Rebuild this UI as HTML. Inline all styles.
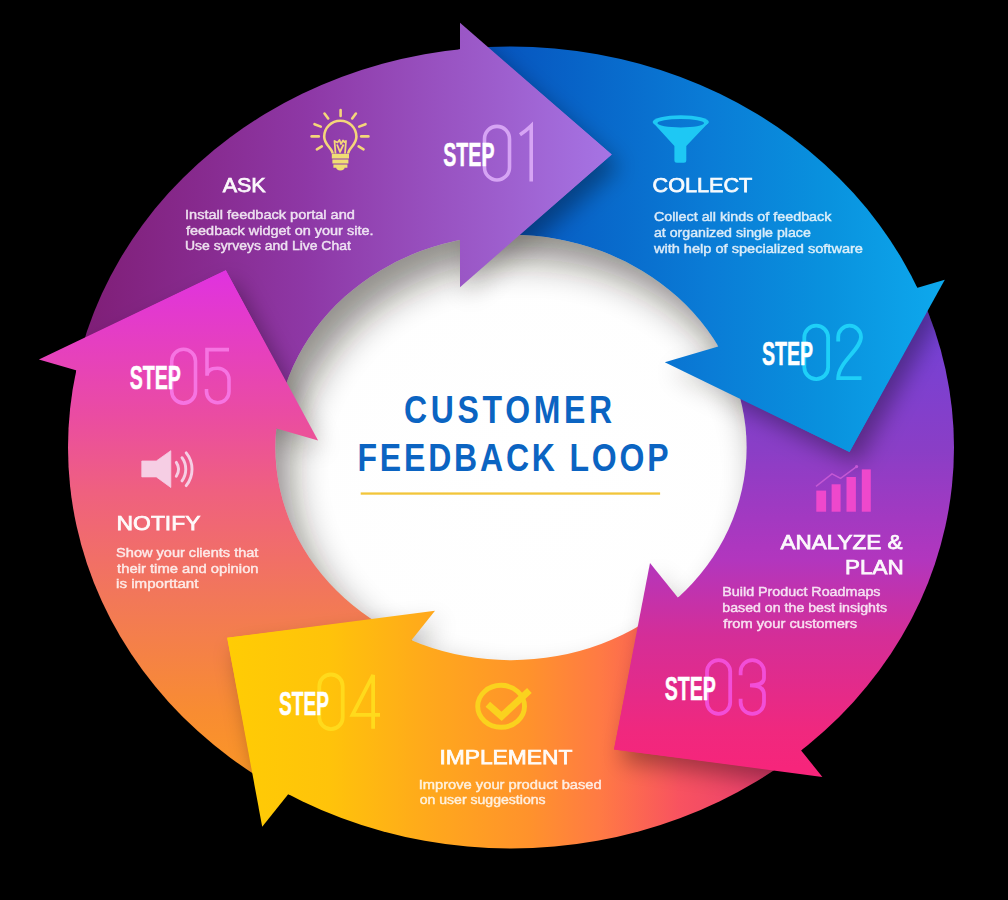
<!DOCTYPE html>
<html><head><meta charset="utf-8"><style>
html,body{margin:0;padding:0;background:#000;width:1008px;height:900px;overflow:hidden}
svg{display:block}
</style></head><body>
<svg width="1008" height="900" viewBox="0 0 1008 900">
<defs>
<linearGradient id="g1" gradientUnits="userSpaceOnUse" x1="60" y1="0" x2="612" y2="0">
  <stop offset="0" stop-color="#7e1c72"/>
  <stop offset="0.25" stop-color="#872a8e"/>
  <stop offset="0.45" stop-color="#8e38a6"/>
  <stop offset="1" stop-color="#a674e4"/>
</linearGradient>
<linearGradient id="g2" gradientUnits="userSpaceOnUse" x1="470" y1="0" x2="950" y2="0">
  <stop offset="0" stop-color="#0650bc"/>
  <stop offset="0.5" stop-color="#0a7cd6"/>
  <stop offset="0.75" stop-color="#0992de"/>
  <stop offset="1" stop-color="#0eaaee"/>
</linearGradient>
<linearGradient id="g3" gradientUnits="userSpaceOnUse" x1="0" y1="300" x2="0" y2="780">
  <stop offset="0" stop-color="#6e42da"/>
  <stop offset="0.3125" stop-color="#8a3ec6"/>
  <stop offset="0.5417" stop-color="#b236be"/>
  <stop offset="0.698" stop-color="#d42e98"/>
  <stop offset="0.9" stop-color="#f0287e"/>
  <stop offset="1" stop-color="#f8247a"/>
</linearGradient>
<linearGradient id="g4" gradientUnits="userSpaceOnUse" x1="230" y1="0" x2="780" y2="0">
  <stop offset="0" stop-color="#ffcc04"/>
  <stop offset="0.18" stop-color="#ffc30a"/>
  <stop offset="0.364" stop-color="#ffa81c"/>
  <stop offset="0.545" stop-color="#ff922c"/>
  <stop offset="0.673" stop-color="#ff7a44"/>
  <stop offset="0.818" stop-color="#f85260"/>
  <stop offset="1" stop-color="#e83c70"/>
</linearGradient>
<linearGradient id="g5" gradientUnits="userSpaceOnUse" x1="0" y1="270" x2="0" y2="800">
  <stop offset="0" stop-color="#e032e0"/>
  <stop offset="0.2736" stop-color="#ea4ca2"/>
  <stop offset="0.415" stop-color="#ef6080"/>
  <stop offset="0.6226" stop-color="#f27858"/>
  <stop offset="0.832" stop-color="#f88c32"/>
  <stop offset="1" stop-color="#fc9a22"/>
</linearGradient>
<radialGradient id="gw" gradientUnits="userSpaceOnUse" cx="540" cy="470" r="240" gradientTransform="translate(540 470) scale(1.1 1) translate(-540 -470)">
  <stop offset="0" stop-color="#ffffff"/>
  <stop offset="1" stop-color="#fefefe"/>
</radialGradient>
<clipPath id="outer"><ellipse cx="511" cy="447.5" rx="443" ry="401"/></clipPath>
<clipPath id="ring"><path clip-rule="evenodd" d="M68,447.5 A443,401 0 1 0 954,447.5 A443,401 0 1 0 68,447.5 Z M275.4,447.5 A235.6,212.7 0 1 0 746.6,447.5 A235.6,212.7 0 1 0 275.4,447.5 Z"/></clipPath>
<filter id="blur" x="-50%" y="-50%" width="200%" height="200%"><feGaussianBlur stdDeviation="11"/></filter>
<filter id="blur2" filterUnits="userSpaceOnUse" x="200" y="150" width="620" height="600"><feGaussianBlur stdDeviation="18"/></filter>
<filter id="blur3" filterUnits="userSpaceOnUse" x="200" y="150" width="620" height="600"><feGaussianBlur stdDeviation="12"/></filter>
<filter id="sh" x="-30%" y="-30%" width="160%" height="160%">
  <feGaussianBlur in="SourceAlpha" stdDeviation="7"/>
  <feOffset dx="4" dy="4" result="b"/>
  <feComponentTransfer><feFuncA type="linear" slope="0.45"/></feComponentTransfer>
  <feMerge><feMergeNode/><feMergeNode in="SourceGraphic"/></feMerge>
</filter>
<clipPath id="hp1"><polygon points="460.0,-1977.3 460.0,2022.7 2460.0,2022.7 2460.0,-1977.3"/></clipPath><clipPath id="hp2"><polygon points="2863.3,-285.6 -973.7,845.0 -408.4,2763.4 3428.5,1632.9"/></clipPath><clipPath id="hp3"><polygon points="-605.1,-994.2 1905.1,2120.2 347.9,3375.2 -2162.2,260.9"/></clipPath><clipPath id="hp4"><polygon points="1684.7,-950.7 -814.7,2172.3 -2376.2,922.5 123.3,-2200.4"/></clipPath><clipPath id="hp5"><polygon points="-1881.9,-197.8 1959.7,916.8 2517.0,-1004.0 -1324.6,-2118.6"/></clipPath><clipPath id="inner"><ellipse cx="511" cy="447.5" rx="235.6" ry="212.7"/></clipPath></defs>
<rect width="1008" height="900" fill="#000"/>
<polygon points="-100.0,319.0 -100.0,-100.0 460.0,-100.0 460.0,287.3 511.0,447.5 318.1,440.5" fill="url(#g1)" clip-path="url(#outer)"/><polygon points="460.0,-100.0 1100.0,-100.0 1100.0,234.0 664.8,362.2 511.0,447.5 460.0,287.3" fill="url(#g2)" clip-path="url(#outer)"/><polygon points="1100.0,234.0 1100.0,1000.0 1001.0,1000.0 650.0,563.0 511.0,447.5 664.8,362.2" fill="url(#g3)" clip-path="url(#outer)"/><polygon points="1001.0,1000.0 123.4,1000.0 435.0,610.8 511.0,447.5 650.0,563.0" fill="url(#g4)" clip-path="url(#outer)"/><polygon points="123.4,1000.0 -100.0,1000.0 -100.0,319.0 318.1,440.5 511.0,447.5 435.0,610.8" fill="url(#g5)" clip-path="url(#outer)"/>
<ellipse cx="511" cy="447.5" rx="235.6" ry="212.7" fill="url(#gw)"/>
<g clip-path="url(#inner)"><g opacity="0.48" filter="url(#blur2)"><g transform="translate(14 24)" fill="#1c1410"><path d="M-300,-300 H1300 V1200 H-300 Z M275.4,447.5 A235.6,212.7 0 1 0 746.6,447.5 A235.6,212.7 0 1 0 275.4,447.5 Z" fill-rule="evenodd"/></g></g><g opacity="0.2" filter="url(#blur3)"><g transform="translate(6 10)" fill="#1c1410"><polygon points="460.0,22.7 611.7,154.5 460.0,287.3"/><polygon points="944.8,279.7 849.5,452.0 664.8,362.2"/><polygon points="650.0,563.0 614.0,749.4 822.4,776.9"/><polygon points="435.0,610.8 227.2,637.8 262.2,826.7"/><polygon points="38.9,359.5 225.8,270.2 318.1,440.5"/></g></g></g>
<g clip-path="url(#hp1)"><g clip-path="url(#ring)"><polygon points="460.0,22.7 611.7,154.5 460.0,287.3" fill="#000" fill-opacity="0.34" filter="url(#blur)" transform="translate(8 12)"/></g></g><g clip-path="url(#hp2)"><g clip-path="url(#ring)"><polygon points="944.8,279.7 849.5,452.0 664.8,362.2" fill="#000" fill-opacity="0.34" filter="url(#blur)" transform="translate(8 12)"/></g></g><g clip-path="url(#hp3)"><g clip-path="url(#ring)"><polygon points="650.0,563.0 614.0,749.4 822.4,776.9" fill="#000" fill-opacity="0.34" filter="url(#blur)" transform="translate(8 12)"/></g></g><g clip-path="url(#hp4)"><g clip-path="url(#ring)"><polygon points="435.0,610.8 227.2,637.8 262.2,826.7" fill="#000" fill-opacity="0.34" filter="url(#blur)" transform="translate(8 12)"/></g></g><g clip-path="url(#hp5)"><g clip-path="url(#ring)"><polygon points="38.9,359.5 225.8,270.2 318.1,440.5" fill="#000" fill-opacity="0.34" filter="url(#blur)" transform="translate(8 12)"/></g></g><polygon points="458.5,22.7 611.7,154.5 458.5,287.3" fill="url(#g1)" clip-path="url(#ring)"/><polygon points="944.4,278.3 849.5,452.0 664.4,360.8" fill="url(#g2)" clip-path="url(#ring)"/><polygon points="651.2,562.1 614.0,749.4 823.6,776.0" fill="url(#g3)" clip-path="url(#ring)"/><polygon points="436.2,611.7 227.2,637.8 263.4,827.6" fill="url(#g4)" clip-path="url(#ring)"/><polygon points="38.5,360.9 225.8,270.2 317.7,441.9" fill="url(#g5)" clip-path="url(#ring)"/><polygon points="460.0,22.7 611.7,154.5 460.0,287.3" fill="url(#g1)"/><polygon points="944.8,279.7 849.5,452.0 664.8,362.2" fill="url(#g2)"/><polygon points="650.0,563.0 614.0,749.4 822.4,776.9" fill="url(#g3)"/><polygon points="435.0,610.8 227.2,637.8 262.2,826.7" fill="url(#g4)"/><polygon points="38.9,359.5 225.8,270.2 318.1,440.5" fill="url(#g5)"/>
<path d="M484.5,138.9 A12.5,12.5 0 0 1 509.5,138.9 L509.5,167.5 A12.5,12.5 0 0 1 484.5,167.5 Z" fill="none" stroke="#d6a4f4" stroke-width="3.6"/><path d="M520.0,134.696 Q526.72,130.248 531.2,125.8 L531.2,181.4" fill="none" stroke="#d6a4f4" stroke-width="3.6" stroke-linejoin="miter"/><path d="M804.3,337.6 A11.900000000000034,11.900000000000034 0 0 1 828.1,337.6 L828.1,367.2 A11.900000000000034,11.900000000000034 0 0 1 804.3,367.2 Z" fill="none" stroke="#1ed0f8" stroke-width="3.8"/><path d="M838.2,341.45 L838.2,337.09999999999997 A11.399999999999977,11.399999999999977 0 0 1 861.0,337.09999999999997 C861.0,349.325 838.2,362.45 838.2,378.2 L861.5,378.2" fill="none" stroke="#1ed0f8" stroke-width="3.8" stroke-linejoin="miter"/><path d="M707.0,671.7 A11.600000000000023,11.600000000000023 0 0 1 730.2,671.7 L730.2,702.3 A11.600000000000023,11.600000000000023 0 0 1 707.0,702.3 Z" fill="none" stroke="#f24ed8" stroke-width="3.8"/><path d="M740.6,675.164 L740.6,671.8 A11.699999999999989,11.699999999999989 0 0 1 764.0,671.8 L764.0,678.366 Q764.0,685.386 749.96,685.386 M749.96,685.386 Q764.0,685.386 764.0,694.746 L764.0,702.2 A11.699999999999989,11.699999999999989 0 0 1 740.6,702.2 L740.6,698.836" fill="none" stroke="#f24ed8" stroke-width="3.8" stroke-linejoin="miter"/><path d="M319.3,686.2 A11.699999999999989,11.699999999999989 0 0 1 342.7,686.2 L342.7,717.4000000000001 A11.699999999999989,11.699999999999989 0 0 1 319.3,717.4000000000001 Z" fill="none" stroke="#ffda1c" stroke-width="3.8"/><path d="M373.125,728.8 L373.125,675.0 L352.5,714.812 L380.0,714.812" fill="none" stroke="#ffda1c" stroke-width="3.8" stroke-linejoin="miter"/><path d="M171.7,361.20000000000005 A11.900000000000006,11.900000000000006 0 0 1 195.5,361.20000000000005 L195.5,391.20000000000005 A11.900000000000006,11.900000000000006 0 0 1 171.7,391.20000000000005 Z" fill="none" stroke="#f674e2" stroke-width="3.6"/><path d="M229.0,349.6 L207.0,349.6 L207.0,375.668 Q207.0,368.22 217.75,368.22 A11.25,11.25 0 0 1 229.0,379.47 L229.0,391.55 A11.25,11.25 0 0 1 206.5,391.55 L206.5,388.968" fill="none" stroke="#f674e2" stroke-width="3.6" stroke-linejoin="miter"/>
<line x1="340.6" y1="110" x2="340.6" y2="116" stroke="#f4d67a" stroke-width="2.6" stroke-linecap="round"/><line x1="324.5" y1="113.5" x2="328.2" y2="118.5" stroke="#f4d67a" stroke-width="2.6" stroke-linecap="round"/><line x1="355.9" y1="113.5" x2="352.2" y2="118.5" stroke="#f4d67a" stroke-width="2.6" stroke-linecap="round"/><line x1="314.5" y1="124.2" x2="320.8" y2="126.6" stroke="#f4d67a" stroke-width="2.6" stroke-linecap="round"/><line x1="365.5" y1="124.2" x2="359.2" y2="126.6" stroke="#f4d67a" stroke-width="2.6" stroke-linecap="round"/><line x1="311.6" y1="136.4" x2="318.8" y2="136.4" stroke="#f4d67a" stroke-width="2.6" stroke-linecap="round"/><line x1="368.4" y1="136.4" x2="361.2" y2="136.4" stroke="#f4d67a" stroke-width="2.6" stroke-linecap="round"/><line x1="316.9" y1="149.3" x2="321.8" y2="146.4" stroke="#f4d67a" stroke-width="2.6" stroke-linecap="round"/><line x1="363.5" y1="149.3" x2="358.6" y2="146.4" stroke="#f4d67a" stroke-width="2.6" stroke-linecap="round"/><path d="M332.6,153.5 C332.6,148.5 324.2,145 324.2,136.8 A16.1,16.1 0 1 1 356.4,136.8 C356.4,145 348.2,148.5 348.2,153.5" fill="none" stroke="#f4d67a" stroke-width="2.6"/><path d="M335.5,153.5 L334.5,141 L337.5,142.5 L339.5,140 L341,144 L343,140.5 L344.5,142 L346,141 L345,153.5 M337,144.5 L340,152 L343.5,144.5" fill="none" stroke="#f4d67a" stroke-width="1.8" stroke-linejoin="round"/><path d="M331.8,153.8 h17.2 v4.8 h-17.2z M332.4,159.5 h16 v4.1 h-16z M333.4,164.5 h14 v3.3 h-14z M336.2,167.6 h8.4 q0,2.8 -4.2,2.8 q-4.2,0 -4.2,-2.8z" fill="#f0de74"/><ellipse cx="680.75" cy="122" rx="28.1" ry="6.8" fill="#1ec8f4"/><path d="M652.9,122.5 L674.4,146 L674.4,160.3 Q674.4,162.8 676.9,162.8 L683.8,162.8 Q686.3,162.8 686.3,160.3 L686.3,146 L708.6,122.5 Z" fill="#1ec8f4"/><ellipse cx="680.75" cy="123.2" rx="23.3" ry="4.2" fill="url(#g2)"/><rect x="816.3" y="490.6" width="9.8" height="21.1" fill="#ee48cc"/><rect x="831.6" y="484.3" width="9.0" height="27.4" fill="#ee48cc"/><rect x="846.5" y="477" width="9.4" height="34.7" fill="#ee48cc"/><rect x="861.8" y="469.4" width="9.0" height="42.3" fill="#ee48cc"/><polyline points="816,486.4 832,473.9 840.6,478.4 856.6,466.6" fill="none" stroke="#c458d4" stroke-width="1.4"/><circle cx="856.6" cy="466.6" r="1.6" fill="#c458d4"/><path d="M141.8,461 L156.3,461 L170.8,450.7 L170.8,487.5 L156.3,476.9 L141.8,476.9 Z" fill="#f6cee4" stroke="#f6cee4" stroke-width="0.8" stroke-linejoin="round"/><path d="M176.3,462.4 A12.4,12.4 0 0 1 176.3,476.2" fill="none" stroke="#f6cee4" stroke-width="2.9" stroke-linecap="round"/><path d="M182.0,457.7 A19.8,19.8 0 0 1 182.0,480.9" fill="none" stroke="#f6cee4" stroke-width="2.9" stroke-linecap="round"/><path d="M186.2,452.9 A26,26 0 0 1 186.2,485.7" fill="none" stroke="#f6cee4" stroke-width="2.9" stroke-linecap="round"/><ellipse cx="501.1" cy="706.3" rx="23.4" ry="21" fill="none" stroke="#fad21e" stroke-width="4.9"/><path d="M487.8,704.2 L501.6,716.3 L529.4,690.5" fill="none" stroke="#fad21e" stroke-width="6.8" stroke-linejoin="miter"/>
<text x="222.7" y="191.8" font-family="Liberation Sans, sans-serif" font-size="20.5" font-weight="normal" fill="#ffffff" opacity="0.97" stroke="#ffffff" stroke-width="0.75" textLength="43.0" lengthAdjust="spacingAndGlyphs">ASK</text><text x="652.5" y="192.3" font-family="Liberation Sans, sans-serif" font-size="20.5" font-weight="normal" fill="#ffffff" opacity="0.97" stroke="#ffffff" stroke-width="0.75" textLength="99.81" lengthAdjust="spacingAndGlyphs">COLLECT</text><text x="780.5" y="548.8" font-family="Liberation Sans, sans-serif" font-size="20.5" font-weight="normal" fill="#ffffff" opacity="0.97" stroke="#ffffff" stroke-width="0.75" textLength="122.0" lengthAdjust="spacingAndGlyphs">ANALYZE &amp;</text><text x="845.0" y="573.6" font-family="Liberation Sans, sans-serif" font-size="20.5" font-weight="normal" fill="#ffffff" opacity="0.97" stroke="#ffffff" stroke-width="0.75" textLength="58.6" lengthAdjust="spacingAndGlyphs">PLAN</text><text x="116.6" y="530.4" font-family="Liberation Sans, sans-serif" font-size="20.5" font-weight="normal" fill="#ffffff" opacity="0.97" stroke="#ffffff" stroke-width="0.75" textLength="83.83" lengthAdjust="spacingAndGlyphs">NOTIFY</text><text x="439.4" y="763.6" font-family="Liberation Sans, sans-serif" font-size="20.5" font-weight="normal" fill="#ffffff" opacity="0.97" stroke="#ffffff" stroke-width="0.75" textLength="133.03" lengthAdjust="spacingAndGlyphs">IMPLEMENT</text><text x="185.0" y="219" font-family="Liberation Sans, sans-serif" font-size="13.6" font-weight="normal" fill="#ffffff" opacity="0.85" stroke="#ffffff" stroke-width="0.45" textLength="169.81" lengthAdjust="spacingAndGlyphs">Install feedback portal and</text><text x="186.0" y="234.5" font-family="Liberation Sans, sans-serif" font-size="13.6" font-weight="normal" fill="#ffffff" opacity="0.85" stroke="#ffffff" stroke-width="0.45" textLength="187.5" lengthAdjust="spacingAndGlyphs">feedback widget on your site.</text><text x="185.0" y="250.4" font-family="Liberation Sans, sans-serif" font-size="13.6" font-weight="normal" fill="#ffffff" opacity="0.85" stroke="#ffffff" stroke-width="0.45" textLength="165.81" lengthAdjust="spacingAndGlyphs">Use syrveys and Live Chat</text><text x="653.9" y="221.3" font-family="Liberation Sans, sans-serif" font-size="13.6" font-weight="normal" fill="#ffffff" opacity="0.85" stroke="#ffffff" stroke-width="0.45" textLength="177.5" lengthAdjust="spacingAndGlyphs">Collect all kinds of feedback</text><text x="653.9" y="237" font-family="Liberation Sans, sans-serif" font-size="13.6" font-weight="normal" fill="#ffffff" opacity="0.85" stroke="#ffffff" stroke-width="0.45" textLength="156.9" lengthAdjust="spacingAndGlyphs">at organized single place</text><text x="653.9" y="252.6" font-family="Liberation Sans, sans-serif" font-size="13.6" font-weight="normal" fill="#ffffff" opacity="0.85" stroke="#ffffff" stroke-width="0.45" textLength="209.1" lengthAdjust="spacingAndGlyphs">with help of specialized software</text><text x="722.3" y="596.4" font-family="Liberation Sans, sans-serif" font-size="13.6" font-weight="normal" fill="#ffffff" opacity="0.85" stroke="#ffffff" stroke-width="0.45" textLength="158.21" lengthAdjust="spacingAndGlyphs">Build Product Roadmaps</text><text x="722.3" y="612.3" font-family="Liberation Sans, sans-serif" font-size="13.6" font-weight="normal" fill="#ffffff" opacity="0.85" stroke="#ffffff" stroke-width="0.45" textLength="164.7" lengthAdjust="spacingAndGlyphs">based on the best insights</text><text x="723.3" y="628.2" font-family="Liberation Sans, sans-serif" font-size="13.6" font-weight="normal" fill="#ffffff" opacity="0.85" stroke="#ffffff" stroke-width="0.45" textLength="133.8" lengthAdjust="spacingAndGlyphs">from your customers</text><text x="116.1" y="556.6" font-family="Liberation Sans, sans-serif" font-size="13.6" font-weight="normal" fill="#ffffff" opacity="0.85" stroke="#ffffff" stroke-width="0.45" textLength="142.31" lengthAdjust="spacingAndGlyphs">Show your clients that</text><text x="117.1" y="572.9" font-family="Liberation Sans, sans-serif" font-size="13.6" font-weight="normal" fill="#ffffff" opacity="0.85" stroke="#ffffff" stroke-width="0.45" textLength="141.51" lengthAdjust="spacingAndGlyphs">their time and opinion</text><text x="116.1" y="588.3" font-family="Liberation Sans, sans-serif" font-size="13.6" font-weight="normal" fill="#ffffff" opacity="0.85" stroke="#ffffff" stroke-width="0.45" textLength="82.41" lengthAdjust="spacingAndGlyphs">is importtant</text><text x="418.7" y="789.4" font-family="Liberation Sans, sans-serif" font-size="13.6" font-weight="normal" fill="#ffffff" opacity="0.85" stroke="#ffffff" stroke-width="0.45" textLength="183.02" lengthAdjust="spacingAndGlyphs">Improve your product based</text><text x="419.7" y="804.1" font-family="Liberation Sans, sans-serif" font-size="13.6" font-weight="normal" fill="#ffffff" opacity="0.85" stroke="#ffffff" stroke-width="0.45" textLength="125.9" lengthAdjust="spacingAndGlyphs">on user suggestions</text><text transform="matrix(0.82 0 0 1 404.1 423.3)" x="0" y="0" font-family="Liberation Sans, sans-serif" font-size="39" font-weight="bold" fill="#0b64c2" textLength="253.66" lengthAdjust="spacing">CUSTOMER</text><text transform="matrix(0.82 0 0 1 357.5 471.3)" x="0" y="0" font-family="Liberation Sans, sans-serif" font-size="39" font-weight="bold" fill="#0b64c2" textLength="379.27" lengthAdjust="spacing">FEEDBACK LOOP</text><text x="443.3" y="165.9" font-family="Liberation Sans, sans-serif" font-size="33" font-weight="bold" fill="#ffffff" opacity="1" stroke="#ffffff" stroke-width="0.5" textLength="51.21" lengthAdjust="spacingAndGlyphs">STEP</text><text x="761.9" y="364.7" font-family="Liberation Sans, sans-serif" font-size="33" font-weight="bold" fill="#ffffff" opacity="1" stroke="#ffffff" stroke-width="0.5" textLength="51.21" lengthAdjust="spacingAndGlyphs">STEP</text><text x="664.7" y="699.9" font-family="Liberation Sans, sans-serif" font-size="33" font-weight="bold" fill="#ffffff" opacity="1" stroke="#ffffff" stroke-width="0.5" textLength="51.21" lengthAdjust="spacingAndGlyphs">STEP</text><text x="279.1" y="714.5" font-family="Liberation Sans, sans-serif" font-size="33" font-weight="bold" fill="#ffffff" opacity="1" stroke="#ffffff" stroke-width="0.5" textLength="50.0" lengthAdjust="spacingAndGlyphs">STEP</text><text x="129.7" y="388.7" font-family="Liberation Sans, sans-serif" font-size="33" font-weight="bold" fill="#ffffff" opacity="1" stroke="#ffffff" stroke-width="0.5" textLength="51.21" lengthAdjust="spacingAndGlyphs">STEP</text><rect x="360.7" y="492.4" width="299.4" height="2.3" fill="#f2c53a"/>
</svg>
</body></html>
